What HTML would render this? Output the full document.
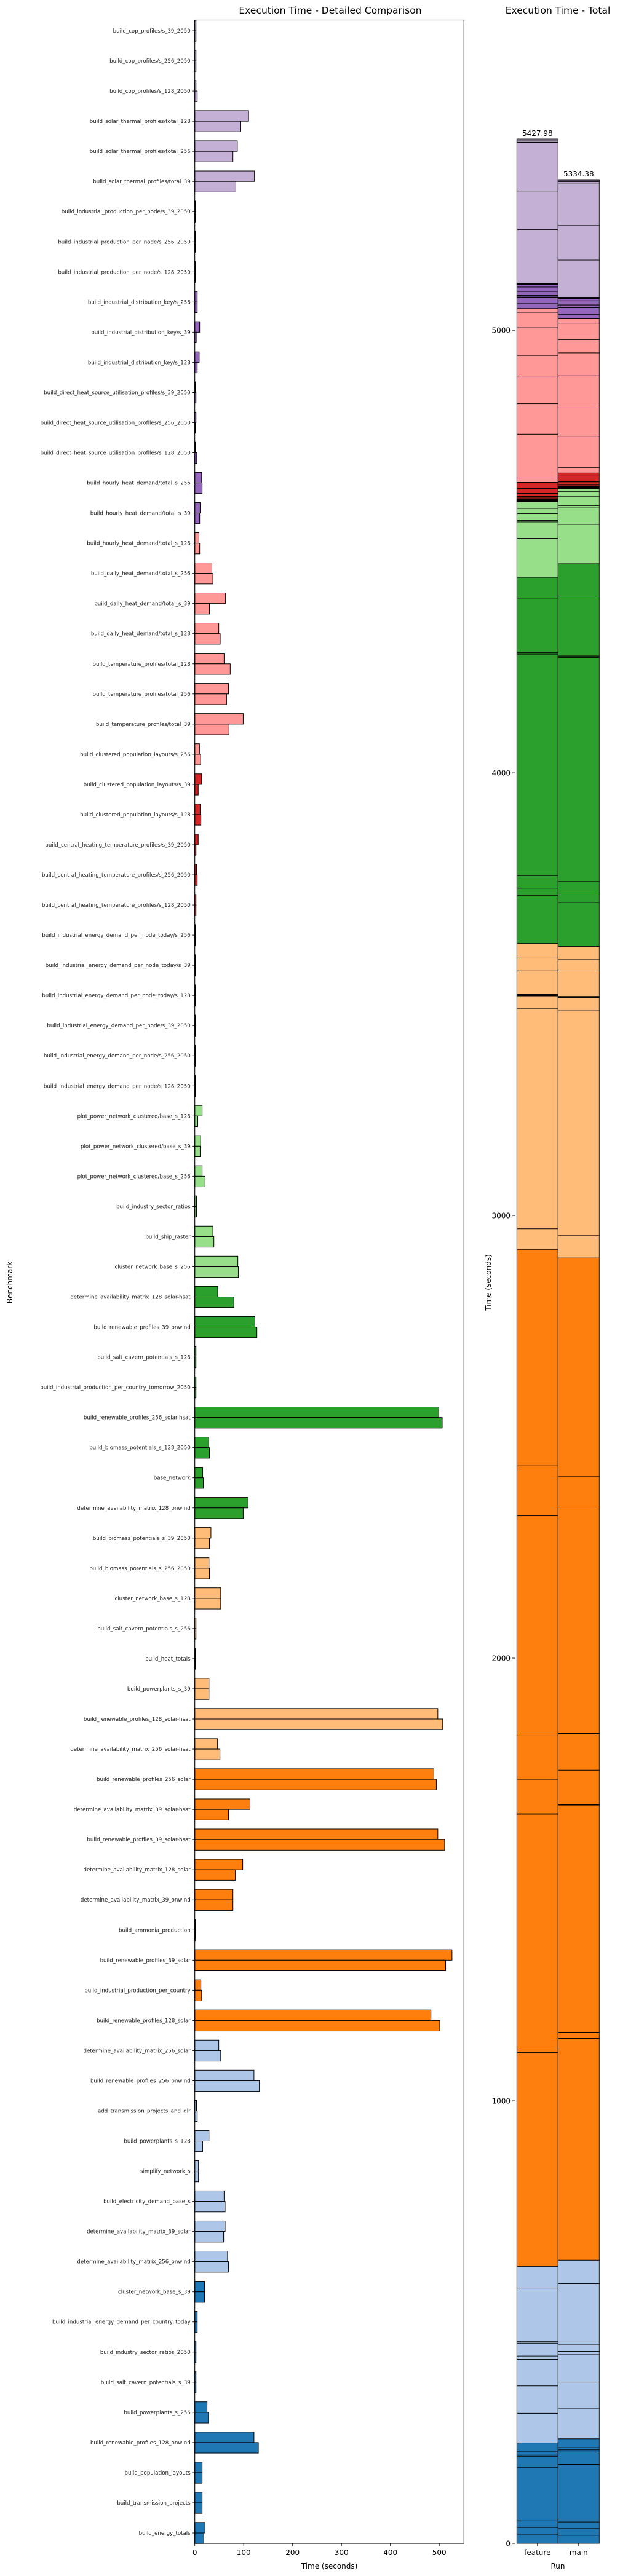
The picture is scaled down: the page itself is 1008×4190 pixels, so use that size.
<!DOCTYPE html>
<html><head><meta charset="utf-8"><title>Execution Time</title>
<style>
html,body{margin:0;padding:0;background:#fff;}
svg{display:block;font-family:"DejaVu Sans","Liberation Sans",sans-serif;}
</style></head>
<body>
<svg id="chart" width="1008" height="4190" viewBox="0 0 1008 4190" xmlns="http://www.w3.org/2000/svg">
<rect x="0" y="0" width="1008" height="4190" fill="#fff"/>
<g id="left"></g>
<g id="right"></g>
</svg>
<script>
const categories = [
"build_cop_profiles/s_39_2050","build_cop_profiles/s_256_2050","build_cop_profiles/s_128_2050",
"build_solar_thermal_profiles/total_128","build_solar_thermal_profiles/total_256","build_solar_thermal_profiles/total_39",
"build_industrial_production_per_node/s_39_2050","build_industrial_production_per_node/s_256_2050","build_industrial_production_per_node/s_128_2050",
"build_industrial_distribution_key/s_256","build_industrial_distribution_key/s_39","build_industrial_distribution_key/s_128",
"build_direct_heat_source_utilisation_profiles/s_39_2050","build_direct_heat_source_utilisation_profiles/s_256_2050","build_direct_heat_source_utilisation_profiles/s_128_2050",
"build_hourly_heat_demand/total_s_256","build_hourly_heat_demand/total_s_39","build_hourly_heat_demand/total_s_128",
"build_daily_heat_demand/total_s_256","build_daily_heat_demand/total_s_39","build_daily_heat_demand/total_s_128",
"build_temperature_profiles/total_128","build_temperature_profiles/total_256","build_temperature_profiles/total_39",
"build_clustered_population_layouts/s_256","build_clustered_population_layouts/s_39","build_clustered_population_layouts/s_128",
"build_central_heating_temperature_profiles/s_39_2050","build_central_heating_temperature_profiles/s_256_2050","build_central_heating_temperature_profiles/s_128_2050",
"build_industrial_energy_demand_per_node_today/s_256","build_industrial_energy_demand_per_node_today/s_39","build_industrial_energy_demand_per_node_today/s_128",
"build_industrial_energy_demand_per_node/s_39_2050","build_industrial_energy_demand_per_node/s_256_2050","build_industrial_energy_demand_per_node/s_128_2050",
"plot_power_network_clustered/base_s_128","plot_power_network_clustered/base_s_39","plot_power_network_clustered/base_s_256",
"build_industry_sector_ratios","build_ship_raster","cluster_network_base_s_256",
"determine_availability_matrix_128_solar-hsat","build_renewable_profiles_39_onwind","build_salt_cavern_potentials_s_128",
"build_industrial_production_per_country_tomorrow_2050","build_renewable_profiles_256_solar-hsat","build_biomass_potentials_s_128_2050",
"base_network","determine_availability_matrix_128_onwind","build_biomass_potentials_s_39_2050",
"build_biomass_potentials_s_256_2050","cluster_network_base_s_128","build_salt_cavern_potentials_s_256",
"build_heat_totals","build_powerplants_s_39","build_renewable_profiles_128_solar-hsat",
"determine_availability_matrix_256_solar-hsat","build_renewable_profiles_256_solar","determine_availability_matrix_39_solar-hsat",
"build_renewable_profiles_39_solar-hsat","determine_availability_matrix_128_solar","determine_availability_matrix_39_onwind",
"build_ammonia_production","build_renewable_profiles_39_solar","build_industrial_production_per_country",
"build_renewable_profiles_128_solar","determine_availability_matrix_256_solar","build_renewable_profiles_256_onwind",
"add_transmission_projects_and_dlr","build_powerplants_s_128","simplify_network_s",
"build_electricity_demand_base_s","determine_availability_matrix_39_solar","determine_availability_matrix_256_onwind",
"cluster_network_base_s_39","build_industrial_energy_demand_per_country_today","build_industry_sector_ratios_2050",
"build_salt_cavern_potentials_s_39","build_powerplants_s_256","build_renewable_profiles_128_onwind",
"build_population_layouts","build_transmission_projects","build_energy_totals"
];
const featureValues = [
2.5,2.5,2.5, 110,87,122, 1,1,1, 5,10,9, 1,2.5,1, 14,11,8.5, 35,62.5,49, 60,69,99,
9.6,14,11, 7,3.5,2.5, 1,1,1, 1,1,1, 15,12,15, 3.5,37,88, 47,123,2.5, 2.5,499,28.5,
16,109,33, 29,53,2.5, 1,29,497, 46.5,489,113, 497,98,78, 1,526,12.5, 483,49,121,
3.5,29,7.5, 60,62,67, 20,5,2.5, 2.5,25,121, 15,15,21
];
const mainValues = [
2.5,2.5,5, 94,78,84, 1,1,1, 5,3,5, 2.5,1,4, 15,10,10, 37,30,52, 72.5,65,70,
12,7,12.5, 2.5,5,2.5, 1,1,1, 1,1,1, 6,11,21, 3.5,39,89, 80,127,2.5, 2.5,506,30,
17.5,99,30, 30,53,2.5, 1,29,507, 51.5,494,69, 511,83,78, 1,513,14, 501,53,132,
5,16,7.5, 62,59,69, 20,5,2.5, 2.5,28,130, 15,15,18.5
];
const colorGroups = [
9,9,9,9,9,9,9,9, 8,8,8,8,8,8,8,8,8, 7,7,7,7,7,7,7,7, 6,6,6,6,6,6,6,6,
5,5,5,5,5,5,5,5,5, 4,4,4,4,4,4,4,4, 3,3,3,3,3,3,3,3, 2,2,2,2,2,2,2,2,2,
1,1,1,1,1,1,1,1, 0,0,0,0,0,0,0,0,0
];
const palette = ["#1f77b4","#aec7e8","#ff7f0e","#ffbb78","#2ca02c","#98df8a","#d62728","#ff9896","#9467bd","#c5b0d5"];
const xTicks = [0,100,200,300,400,500];
const yTicksTotal = [0,1000,2000,3000,4000,5000];
const runs = ["feature","main"];
const totalLabels = ["5427.98","5334.38"];

const NS = "http://www.w3.org/2000/svg";
function mk(tag, attrs, parent){const e=document.createElementNS(NS,tag);for(const k in attrs)e.setAttribute(k,attrs[k]);parent.appendChild(e);return e;}

// ---------- left chart ----------
const L = document.getElementById('left');
const plotLeft=316.7, plotRight=754.3, plotTop=32.5, plotBottom=4137;
const pxPerSec = 0.795;
const xs = v => plotLeft + v*pxPerSec;
const rowStep = (4120-50)/83;
const yc = i => 50 + i*rowStep;
const barH = 0.35*rowStep;

let t = mk('text',{x:537,y:22,'font-size':'15.5','text-anchor':'middle',fill:'#000'},L);
t.textContent='Execution Time - Detailed Comparison';



categories.forEach((name,i)=>{
  const c = palette[colorGroups[i]];
  const y0 = yc(i);
  const rf = mk('rect',{x:xs(0),y:y0-barH,width:Math.max(featureValues[i]*pxPerSec,0.5),height:barH,fill:c,stroke:'#000','stroke-width':1},L);
  
  
  const rm = mk('rect',{x:xs(0),y:y0,width:Math.max(mainValues[i]*pxPerSec,0.5),height:barH,fill:c,stroke:'#000','stroke-width':1},L);
  
  
  mk('line',{x1:plotLeft-4.5,x2:plotLeft,y1:y0,y2:y0,stroke:'#000','stroke-width':0.9},L);
  const lb = mk('text',{x:plotLeft-7,y:y0+3,'font-size':'8.65','text-anchor':'end',fill:'#222'},L);
  lb.textContent = name;
  
  
});

const frame = mk('rect',{x:plotLeft,y:plotTop,width:plotRight-plotLeft,height:plotBottom-plotTop,fill:'none',stroke:'#000','stroke-width':1.1},L);



xTicks.forEach(v=>{
  mk('line',{x1:xs(v),x2:xs(v),y1:plotBottom,y2:plotBottom+4.5,stroke:'#000','stroke-width':0.9},L);
  const tl = mk('text',{x:xs(v),y:plotBottom+19,'font-size':'12','text-anchor':'middle',fill:'#000'},L);
  tl.textContent = v;
  
  
});
t = mk('text',{x:(plotLeft+plotRight)/2,y:4178,'font-size':'12','text-anchor':'middle',fill:'#000'},L);
t.textContent='Time (seconds)';


t = mk('text',{x:0,y:0,'font-size':'12','text-anchor':'middle',fill:'#000',transform:'translate(20,2086) rotate(-90)'},L);
t.textContent='Benchmark';



// ---------- right chart ----------
const R = document.getElementById('right');
const rBottom = 4137;
const pxPerUnit = 3908/5427.98;
const ys = v => rBottom - v*pxPerUnit;
const runX = [840.3, 907.3];
const runW = 67;

t = mk('text',{x:907,y:22,'font-size':'15.5','text-anchor':'middle',fill:'#000'},R);
t.textContent='Execution Time - Total';



[featureValues, mainValues].forEach((vals,r)=>{
  let acc = 0;
  for(let i=categories.length-1;i>=0;i--){
    const v = vals[i];
    const seg = mk('rect',{x:runX[r],y:ys(acc+v),width:runW,height:v*pxPerUnit,fill:palette[colorGroups[i]],stroke:'#000','stroke-width':0.9},R);
    
    
    acc += v;
  }
  const lbl = mk('text',{x:runX[r]+runW/2,y:ys(acc)-5,'font-size':'12','text-anchor':'middle',fill:'#000'},R);
  lbl.textContent = totalLabels[r];
  
  
  mk('line',{x1:runX[r]+runW/2,x2:runX[r]+runW/2,y1:rBottom,y2:rBottom+4.5,stroke:'#000','stroke-width':0.9},R);
  const xl = mk('text',{x:runX[r]+runW/2,y:rBottom+19,'font-size':'12','text-anchor':'middle',fill:'#000'},R);
  xl.textContent = runs[r];
  
  
});

yTicksTotal.forEach(v=>{
  mk('line',{x1:833,x2:837.5,y1:ys(v),y2:ys(v),stroke:'#000','stroke-width':0.9},R);
  const tl = mk('text',{x:830,y:ys(v)+4.3,'font-size':'12','text-anchor':'end',fill:'#000'},R);
  tl.textContent = v;
  
  
});
t = mk('text',{x:0,y:0,'font-size':'12','text-anchor':'middle',fill:'#000',transform:'translate(798,2086) rotate(-90)'},R);
t.textContent='Time (seconds)';


t = mk('text',{x:907,y:4178,'font-size':'12','text-anchor':'middle',fill:'#000'},R);
t.textContent='Run';


</script>
</body></html>
